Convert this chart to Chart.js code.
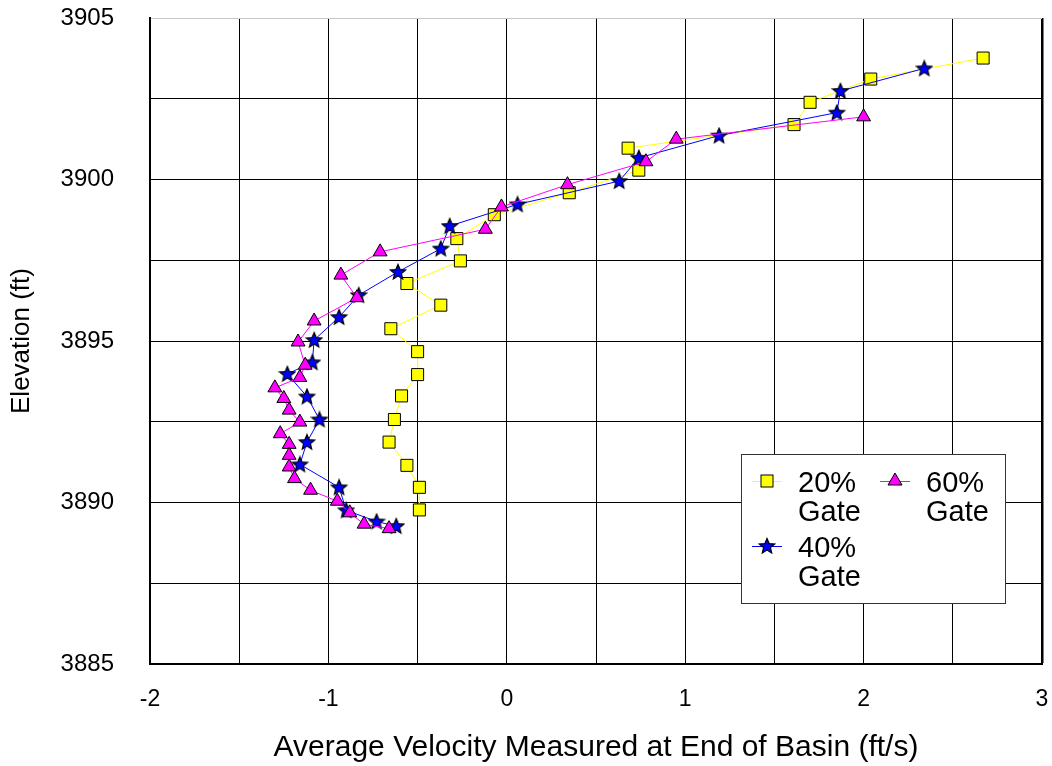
<!DOCTYPE html>
<html>
<head>
<meta charset="utf-8">
<title>Velocity profile</title>
<script src="https://cdn.jsdelivr.net/npm/chart.js@4/dist/chart.umd.min.js"></script>
<style>
  body { margin: 0; background: #fff; }
  canvas { display: block; }
</style>
</head>
<body>
<canvas id="chart1" width="1052" height="766"></canvas>
<script>
// velocity (ft/s) and elevation (ft) for each gate opening
var vel20 = [2.67, 2.04, 1.70, 1.61, 0.68, 0.74, 0.35, -0.07, -0.28, -0.26, -0.56, -0.37, -0.65, -0.50, -0.50, -0.59, -0.63, -0.66, -0.56, -0.49, -0.49];
var elev20 = [3903.76, 3903.11, 3902.39, 3901.70, 3900.97, 3900.29, 3899.59, 3898.91, 3898.17, 3897.48, 3896.78, 3896.11, 3895.38, 3894.67, 3893.96, 3893.30, 3892.57, 3891.87, 3891.15, 3890.47, 3889.77];

var vel40 = [2.34, 1.87, 1.85, 1.19, 0.74, 0.63, 0.06, -0.32, -0.37, -0.61, -0.83, -0.94, -1.08, -1.09, -1.23, -1.12, -1.05, -1.12, -1.16, -0.94, -0.90, -0.73, -0.62];
var elev40 = [3903.44, 3902.74, 3902.07, 3901.36, 3900.67, 3899.95, 3899.23, 3898.56, 3897.86, 3897.14, 3896.42, 3895.74, 3895.03, 3894.34, 3893.98, 3893.28, 3892.57, 3891.87, 3891.18, 3890.47, 3889.76, 3889.41, 3889.27];

var vel60 = [2.00, 0.95, 0.78, 0.34, -0.03, -0.12, -0.71, -0.93, -0.84, -1.08, -1.17, -1.13, -1.16, -1.30, -1.25, -1.22, -1.16, -1.27, -1.22, -1.22, -1.22, -1.19, -1.10, -0.95, -0.88, -0.80, -0.66];
var elev60 = [3901.94, 3901.25, 3900.55, 3899.84, 3899.15, 3898.46, 3897.76, 3897.04, 3896.34, 3895.62, 3894.97, 3894.25, 3893.87, 3893.55, 3893.22, 3892.86, 3892.49, 3892.13, 3891.80, 3891.46, 3891.10, 3890.74, 3890.38, 3890.04, 3889.68, 3889.33, 3889.19];

var seriesLabels = ['20% Gate', '40% Gate', '60% Gate'];
var xTicks = [-2, -1, 0, 1, 2, 3];
var yTicks = [3885, 3890, 3895, 3900, 3905];

var FONT = '"Liberation Sans", Arial, sans-serif';

function toPoints(xs, ys) {
  return xs.map(function (v, i) { return { x: v, y: ys[i] }; });
}

// filled five point star used as the 40% marker
function makeStar(size, fill) {
  var c = document.createElement('canvas');
  c.width = size; c.height = size;
  var g = c.getContext('2d');
  var cx = size / 2, cy = size / 2 + 0.5, outer = size / 2 - 1, inner = outer * 0.45;
  g.beginPath();
  for (var i = 0; i < 10; i++) {
    var r = i % 2 === 0 ? outer : inner;
    var a = -Math.PI / 2 + i * Math.PI / 5;
    g.lineTo(cx + r * Math.cos(a), cy + r * Math.sin(a));
  }
  g.closePath();
  g.fillStyle = fill;
  g.fill();
  g.lineWidth = 1.2;
  g.strokeStyle = '#000';
  g.stroke();
  return c;
}
var star = makeStar(18, '#0000ff');

// legend box drawn inside the plot, two columns
var boxLegend = {
  id: 'boxLegend',
  afterDraw: function (chart) {
    var ctx = chart.ctx, a = chart.chartArea;
    var left = a.right - 301, top = a.top + 436;
    ctx.save();
    ctx.fillStyle = '#fff';
    ctx.fillRect(left, top, 264, 149);
    ctx.strokeStyle = '#333';
    ctx.lineWidth = 1;
    ctx.strokeRect(left + 0.5, top + 0.5, 264, 149);

    var spots = [[left + 26, top + 27], [left + 26, top + 92], [left + 154, top + 27]];
    chart.data.datasets.forEach(function (ds, i) {
      var mx = spots[i][0], my = spots[i][1];
      ctx.strokeStyle = ds.borderColor;
      ctx.lineWidth = 1;
      ctx.beginPath();
      ctx.moveTo(mx - 15, my + 0.5);
      ctx.lineTo(mx + 15, my + 0.5);
      ctx.stroke();
      ctx.fillStyle = ds.pointBackgroundColor;
      ctx.strokeStyle = '#000';
      if (ds.pointStyle === 'rect') {
        ctx.fillRect(mx - 6, my - 6, 12, 12);
        ctx.strokeRect(mx - 6, my - 6, 12, 12);
      } else if (ds.pointStyle === 'triangle') {
        ctx.beginPath();
        ctx.moveTo(mx, my - 8);
        ctx.lineTo(mx + 7, my + 4);
        ctx.lineTo(mx - 7, my + 4);
        ctx.closePath();
        ctx.fill();
        ctx.stroke();
      } else {
        ctx.drawImage(ds.pointStyle, mx - 9, my - 9);
      }
      ctx.fillStyle = '#000';
      ctx.font = '29px ' + FONT;
      ctx.textBaseline = 'middle';
      ctx.textAlign = 'left';
      var words = ds.label.split(' ');
      ctx.fillText(words[0], mx + 31, my + 3);
      ctx.fillText(words[1], mx + 31, my + 32);
    });
    ctx.restore();
  }
};

var ctx = document.getElementById('chart1').getContext('2d');
var chart = new Chart(ctx, {
  type: 'scatter',
  data: {
    datasets: [{
      label: seriesLabels[0],
      data: toPoints(vel20, elev20),
      showLine: true,
      borderColor: '#ffff00',
      borderWidth: 1,
      pointStyle: 'rect',
      pointRadius: 8.5,
      pointBackgroundColor: '#ffff00',
      pointBorderColor: '#000',
      pointBorderWidth: 1,
      order: 3
    }, {
      label: seriesLabels[1],
      data: toPoints(vel40, elev40),
      showLine: true,
      borderColor: '#0000ff',
      borderWidth: 1,
      pointStyle: star,
      pointRadius: 9,
      pointBackgroundColor: '#0000ff',
      pointBorderColor: '#000',
      order: 2
    }, {
      label: seriesLabels[2],
      data: toPoints(vel60, elev60),
      showLine: true,
      borderColor: '#ff00ff',
      borderWidth: 1,
      pointStyle: 'triangle',
      pointRadius: 8,
      pointBackgroundColor: '#ff00ff',
      pointBorderColor: '#000',
      pointBorderWidth: 1,
      order: 1
    }]
  },
  options: {
    responsive: false,
    animation: false,
    layout: { padding: { top: 18, right: 9, left: 0, bottom: 0 } },
    plugins: {
      legend: { display: false },
      tooltip: { enabled: false }
    },
    scales: {
      x: {
        type: 'linear',
        min: xTicks[0],
        max: xTicks[xTicks.length - 1],
        afterFit: function (scale) {
          scale.height = 102;
          scale.paddingLeft = 0;
          scale.paddingRight = 0;
        },
        ticks: {
          stepSize: 0.5,
          padding: 22,
          color: '#000',
          font: { family: FONT, size: 23 },
          maxRotation: 0,
          autoSkip: false,
          callback: function (v) { return xTicks.indexOf(v) >= 0 ? String(v) : ''; }
        },
        grid: {
          color: '#000',
          drawTicks: false,
          lineWidth: function (c) { return c.tick && c.tick.value === 3 ? 2.5 : 1; }
        },
        border: { color: '#000', width: 2 },
        title: {
          display: true,
          text: 'Average Velocity Measured at End of Basin (ft/s)',
          color: '#000',
          font: { family: FONT, size: 30 },
          padding: { top: 0, bottom: 0 }
        }
      },
      y: {
        type: 'linear',
        min: yTicks[0],
        max: yTicks[yTicks.length - 1],
        afterFit: function (scale) {
          scale.width = 150;
          scale.paddingTop = 0;
          scale.paddingBottom = 0;
        },
        ticks: {
          stepSize: 2.5,
          padding: 36,
          color: '#000',
          font: { family: FONT, size: 24 },
          autoSkip: false,
          callback: function (v) { return yTicks.indexOf(v) >= 0 ? String(v) : ''; }
        },
        grid: {
          drawTicks: false,
          color: function (c) { return c.tick && c.tick.value === 3905 ? '#c8c8c8' : '#000'; }
        },
        border: { color: '#000', width: 2 },
        title: {
          display: true,
          text: 'Elevation (ft)',
          color: '#000',
          font: { family: FONT, size: 26 },
          padding: { top: 6, bottom: 0 }
        }
      }
    }
  },
  plugins: [boxLegend]
});
</script>
</body>
</html>
